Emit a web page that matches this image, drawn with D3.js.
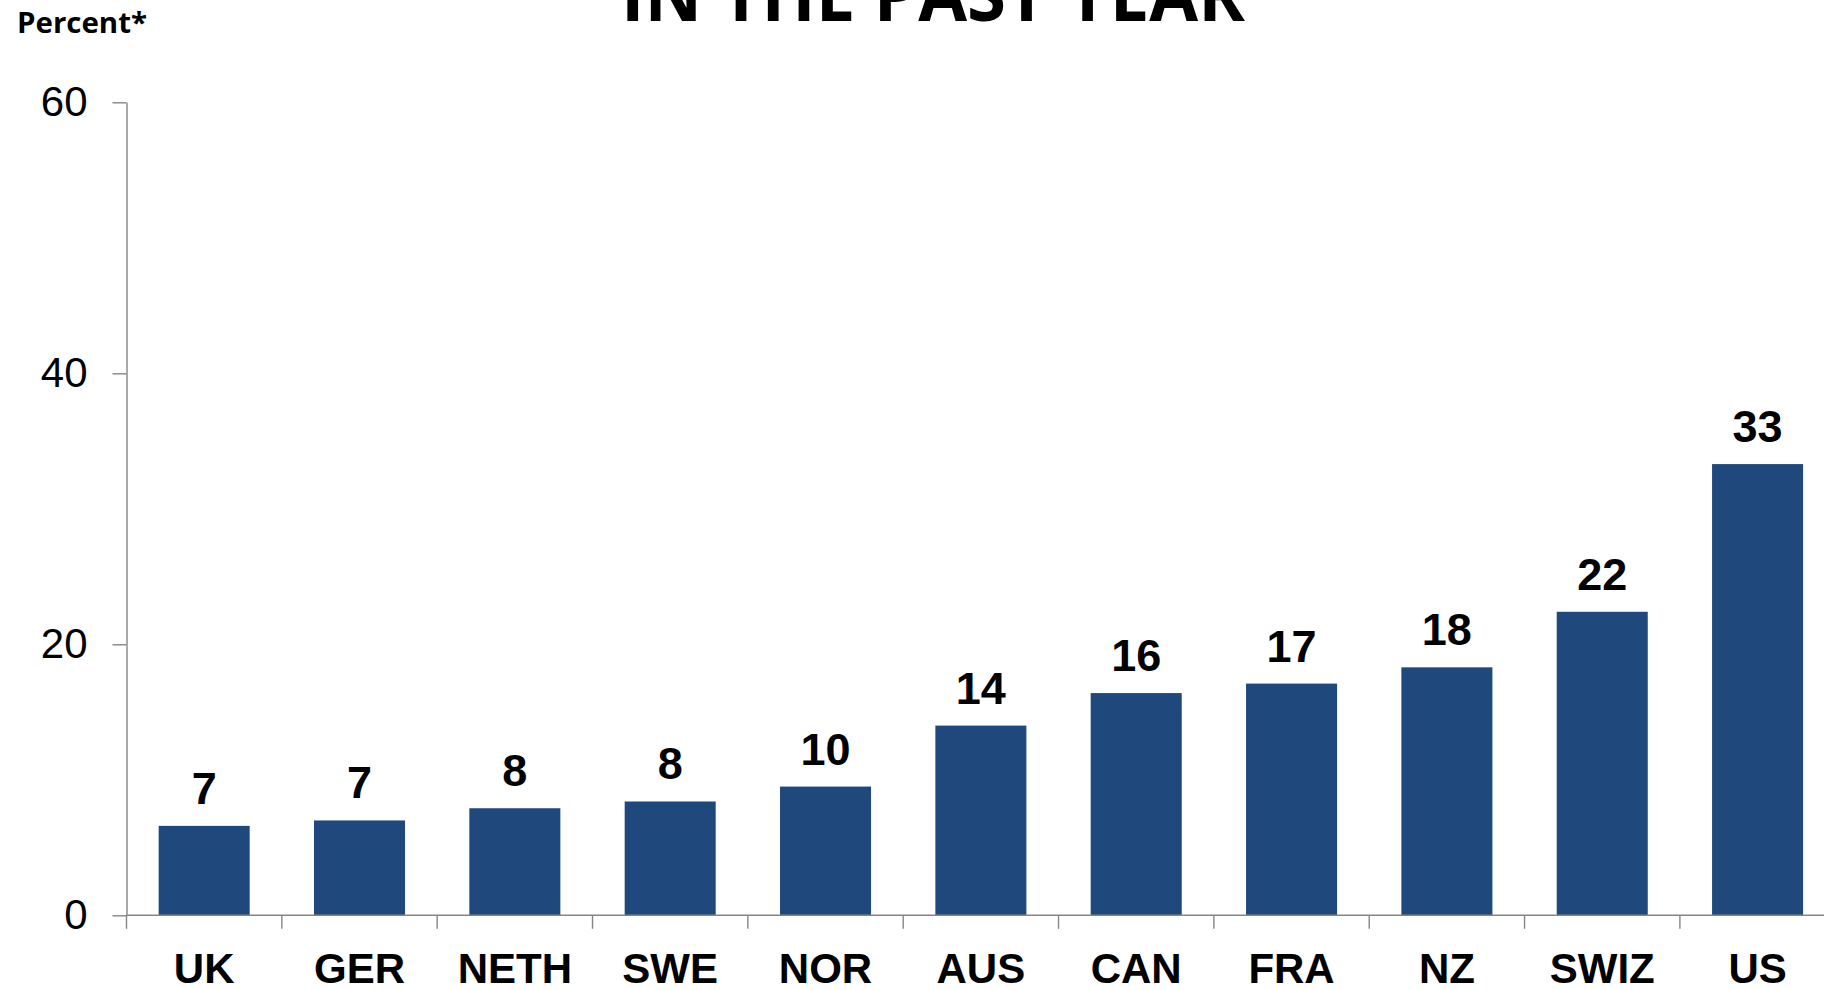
<!DOCTYPE html>
<html>
<head>
<meta charset="utf-8">
<script src="https://cdn.jsdelivr.net/npm/d3@7"></script>
<style>
  html, body { margin: 0; padding: 0; background: #ffffff; }
  svg { display: block; }
</style>
</head>
<body>
<svg id="chart" width="1824" height="990"></svg>
<script>
// Countries, in the order shown along the axis
const countries = ["UK", "GER", "NETH", "SWE", "NOR", "AUS", "CAN", "FRA", "NZ", "SWIZ", "US"];
// Share of respondents, percent
const percents = [6.6, 7.0, 7.9, 8.4, 9.5, 14.0, 16.4, 17.1, 18.3, 22.4, 33.3];
// Y axis tick values
const yTicks = [0, 20, 40, 60];

const titleText = "IN THE PAST YEAR";
const unitText = "Percent*";

const svg = d3.select("#chart");
const W = 1824, H = 990;

const plotLeft = 126.5;
const step = 155.34;
const plotTop = 102.3;
const plotBottom = 915.3;

const x = d3.scaleBand()
  .domain(countries)
  .range([plotLeft, plotLeft + step * countries.length])
  .paddingInner(0.414)
  .paddingOuter(0.207);

const y = d3.scaleLinear()
  .domain([0, 60])
  .range([plotBottom, plotTop]);

const data = countries.map((c, i) => ({ country: c, value: percents[i] }));
const axisColor = "#858585";

// Title (its upper part runs off the top of the page)
svg.append("text")
  .attr("x", 933)
  .attr("y", 21)
  .attr("text-anchor", "middle")
  .attr("font-family", "'Open Sans', sans-serif")
  .attr("font-weight", 700)
  .attr("font-size", 76)
  .attr("textLength", 624)
  .attr("lengthAdjust", "spacingAndGlyphs")
  .attr("fill", "#000")
  .text(titleText);

// Unit label
svg.append("text")
  .attr("x", 17)
  .attr("y", 33)
  .attr("font-family", "'Open Sans', sans-serif")
  .attr("font-weight", 700)
  .attr("font-size", 28)
  .attr("textLength", 130)
  .attr("lengthAdjust", "spacingAndGlyphs")
  .attr("fill", "#000")
  .text(unitText);

// Bars
svg.append("g")
  .selectAll("rect")
  .data(data)
  .join("rect")
  .attr("x", d => x(d.country))
  .attr("y", d => y(d.value))
  .attr("width", x.bandwidth())
  .attr("height", d => y(0) - y(d.value))
  .attr("fill", "#1f497d");

// Value labels above bars
svg.append("g")
  .selectAll("text")
  .data(data)
  .join("text")
  .attr("x", d => x(d.country) + x.bandwidth() / 2)
  .attr("y", d => y(d.value) - 22)
  .attr("text-anchor", "middle")
  .attr("font-family", "'Liberation Sans', Arial, sans-serif")
  .attr("font-weight", 700)
  .attr("font-size", 45)
  .attr("fill", "#000")
  .text(d => Math.round(d.value));

// Y axis
const yAxis = svg.append("g")
  .attr("transform", `translate(${plotLeft},0)`)
  .call(d3.axisLeft(y).tickValues(yTicks).tickSize(14).tickSizeOuter(0).tickPadding(25));
yAxis.select(".domain").attr("stroke", axisColor).attr("stroke-width", 1.4);
yAxis.selectAll(".tick line").attr("stroke", axisColor).attr("stroke-width", 1.4);
yAxis.selectAll(".tick text")
  .attr("font-family", "'Liberation Sans', Arial, sans-serif")
  .attr("font-size", 42)
  .attr("fill", "#000");

// X axis baseline and category separators
const bounds = d3.range(countries.length + 1).map(i => x.range()[0] + i * x.step());
svg.append("line")
  .attr("x1", plotLeft).attr("x2", W)
  .attr("y1", y(0)).attr("y2", y(0))
  .attr("stroke", axisColor).attr("stroke-width", 1.4);
svg.append("g")
  .selectAll("line")
  .data(bounds)
  .join("line")
  .attr("x1", d => d).attr("x2", d => d)
  .attr("y1", y(0)).attr("y2", y(0) + 13.5)
  .attr("stroke", axisColor).attr("stroke-width", 1.4);

// Category labels
svg.append("g")
  .selectAll("text")
  .data(countries)
  .join("text")
  .attr("x", d => x(d) + x.bandwidth() / 2)
  .attr("y", 983)
  .attr("text-anchor", "middle")
  .attr("font-family", "'Liberation Sans', Arial, sans-serif")
  .attr("font-weight", 700)
  .attr("font-size", 42)
  .attr("fill", "#000")
  .text(d => d);
</script>
</body>
</html>
